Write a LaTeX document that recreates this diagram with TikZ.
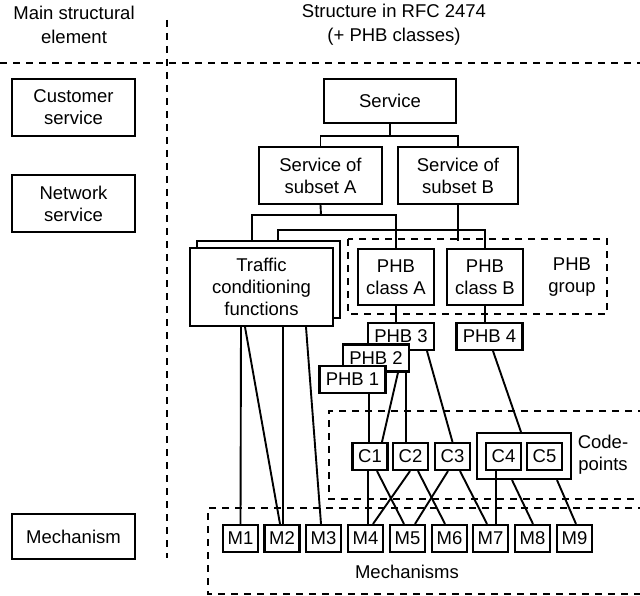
\documentclass[tikz,border=0pt]{standalone}
\usepackage{fontspec}
\setmainfont{Liberation Sans}
\begin{document}
\begin{tikzpicture}[x=1pt,y=-1pt,
  every node/.style={font=\fontsize{18.5}{22}\selectfont, inner sep=0pt, align=center},
  bx/.style={draw, line width=2.1pt, fill=white},
  sm/.style={bx, minimum width=35pt, minimum height=27pt},
  phb/.style={bx, minimum width=66pt, minimum height=27pt},
  conn/.style={line width=1.9pt},
  dline/.style={line width=2pt, dash pattern=on 7pt off 6pt}
]
\useasboundingbox (0,0) rectangle (640,596);

% header
\node (h1) at (74,25) {Main structural\\[2pt]element};
\node (h2) at (394,25) {Structure in RFC 2474\\[2pt](+ PHB classes)};
\draw[dline] (0,63) -- (640,63);
\draw[dline] (167,20) -- (167,558);

% left column
\node[bx, minimum width=123pt, minimum height=57pt] (cust) at (73.5,107.5) {Customer\\service};
\node[bx, minimum width=123pt, minimum height=57pt] (net) at (73.5,203.5) {Network\\service};
\node[bx, minimum width=123pt, minimum height=45pt] (mech) at (73.5,536.5) {Mechanism};

% dashed groups
\draw[dline] (348,239) rectangle (607,314);
\node (grp) at (572,277) {PHB\\group};
\draw[dline] (645,411) -- (329,411) -- (329,499) -- (645,499);
\node (cpt) at (603,455) {Code-\\points};
\draw[dline] (645,508) -- (208,508) -- (208,594) -- (645,594);
\node (mtxt) at (407,572) {Mechanisms};

% service level
\node[bx, minimum width=132pt, minimum height=44pt] (svc) at (390,101) {Service};
\node[bx, minimum width=123pt, minimum height=57pt] (subA) at (320.5,175.5) {Service of\\subset A};
\node[bx, minimum width=120pt, minimum height=57pt] (subB) at (458,175.5) {Service of\\subset B};

% PHB classes
\node[bx, minimum width=76pt, minimum height=56pt] (phbA) at (396,277) {PHB\\class A};
\node[bx, minimum width=76pt, minimum height=56pt] (phbB) at (485,277) {PHB\\class B};

% traffic conditioning stack
\coordinate (tback) at (278,241);
\draw[conn] (tback) -- (278,230) -| (phbB.north);
\node[bx, minimum width=143pt, minimum height=77pt] (tcm) at (268.5,279.5) {};
\node[bx, minimum width=143pt, minimum height=78pt] (tc) at (261.5,287) {Traffic\\conditioning\\functions};

% service connectors
\coordinate (j1) at (390,137);
\draw[conn] (svc.south) -- (j1);
\draw[conn] (subA.north) -- ++(0,-10) -| (subB.north);
\coordinate (jA) at (321,215);
\coordinate (tA) at (252,241);
\draw[conn] (subA.south) -- (jA);
\draw[conn] (tA) |- (phbA.north |- jA) -- (phbA.north);
\draw[conn] (subB.south) -- (subB.south |- tback) -- ++(0,-11);

% PHBs
\node[phb] (phb3) at (401,336.5) {PHB 3};
\node[phb] (phb4) at (489.5,336.5) {PHB 4};
\draw[conn] (phbA.south) -- (phbA.south |- phb3.north);
\draw[conn] (phbB.south) -- (phbB.south |- phb4.north);

% codepoints
\node[draw, line width=2.1pt, minimum width=94pt, minimum height=46pt] (cg) at (524,456) {};
\node[sm] (c1) at (370,456.5) {C1};
\node[sm] (c2) at (410.5,456.5) {C2};
\node[sm] (c3) at (452.5,456.5) {C3};
\node[sm] (c4) at (503.5,456.5) {C4};
\node[sm] (c5) at (544.5,456.5) {C5};

% mechanisms
\foreach \i/\x in {1/240.5,2/282,3/323.5,4/365.5,5/407.5,6/449.5,7/490.5,8/532.5,9/574.5}
  \node[sm] (m\i) at (\x,538.5) {M\i};

% PHB to codepoints (drawn before PHB 2 / PHB 1 boxes)
\draw[conn] ([xshift=26pt]phb3.south) -- (c3.north);
\draw[conn] ([xshift=3.5pt]phb4.south) -- ([xshift=-3pt]cg.north);
\node[phb] (phb2) at (376,358) {PHB 2};
\draw[conn] ([xshift=22pt]phb2.south) -- ([xshift=12pt]c1.north);
\draw[conn] ([xshift=30pt]phb2.south) -- ([xshift=-4.5pt]c2.north);
\node[phb] (phb1) at (352.5,379.5) {PHB 1};
\draw[conn] ([xshift=16.5pt]phb1.south) -- ([xshift=-1pt]c1.north);

% traffic to mechanisms
\draw[conn] ([xshift=-20.5pt]tc.south) -- (m1.north);
\draw[conn] ([xshift=-16.5pt]tc.south) -- ([xshift=-2pt]m2.north);
\draw[conn] ([xshift=21.5pt]tc.south) -- ([xshift=1pt]m2.north);
\draw[conn] ([xshift=44.5pt]tc.south) -- ([xshift=-2.5pt]m3.north);

% codepoints to mechanisms
\draw[conn] ([xshift=-2pt]c1.south) -- ([xshift=2.5pt]m4.north);
\draw[conn] ([xshift=7pt]c1.south) -- ([xshift=-3.5pt]m5.north);
\draw[conn] ([xshift=-0.5pt]c2.south) -- ([xshift=7.5pt]m4.north);
\draw[conn] ([xshift=7.5pt]c2.south) -- ([xshift=-4.5pt]m6.north);
\draw[conn] ([xshift=-4.5pt]c3.south) -- ([xshift=7.5pt]m5.north);
\draw[conn] ([xshift=7.5pt]c3.south) -- ([xshift=-3.5pt]m7.north);
\draw[conn] ([xshift=-7.5pt]c4.south) -- ([xshift=5.5pt]m7.north);
\draw[conn] ([xshift=-12pt]cg.south) -- ([xshift=0.5pt]m8.north);
\draw[conn] ([xshift=33pt]cg.south) -- ([xshift=1.5pt]m9.north);
\end{tikzpicture}
\end{document}
